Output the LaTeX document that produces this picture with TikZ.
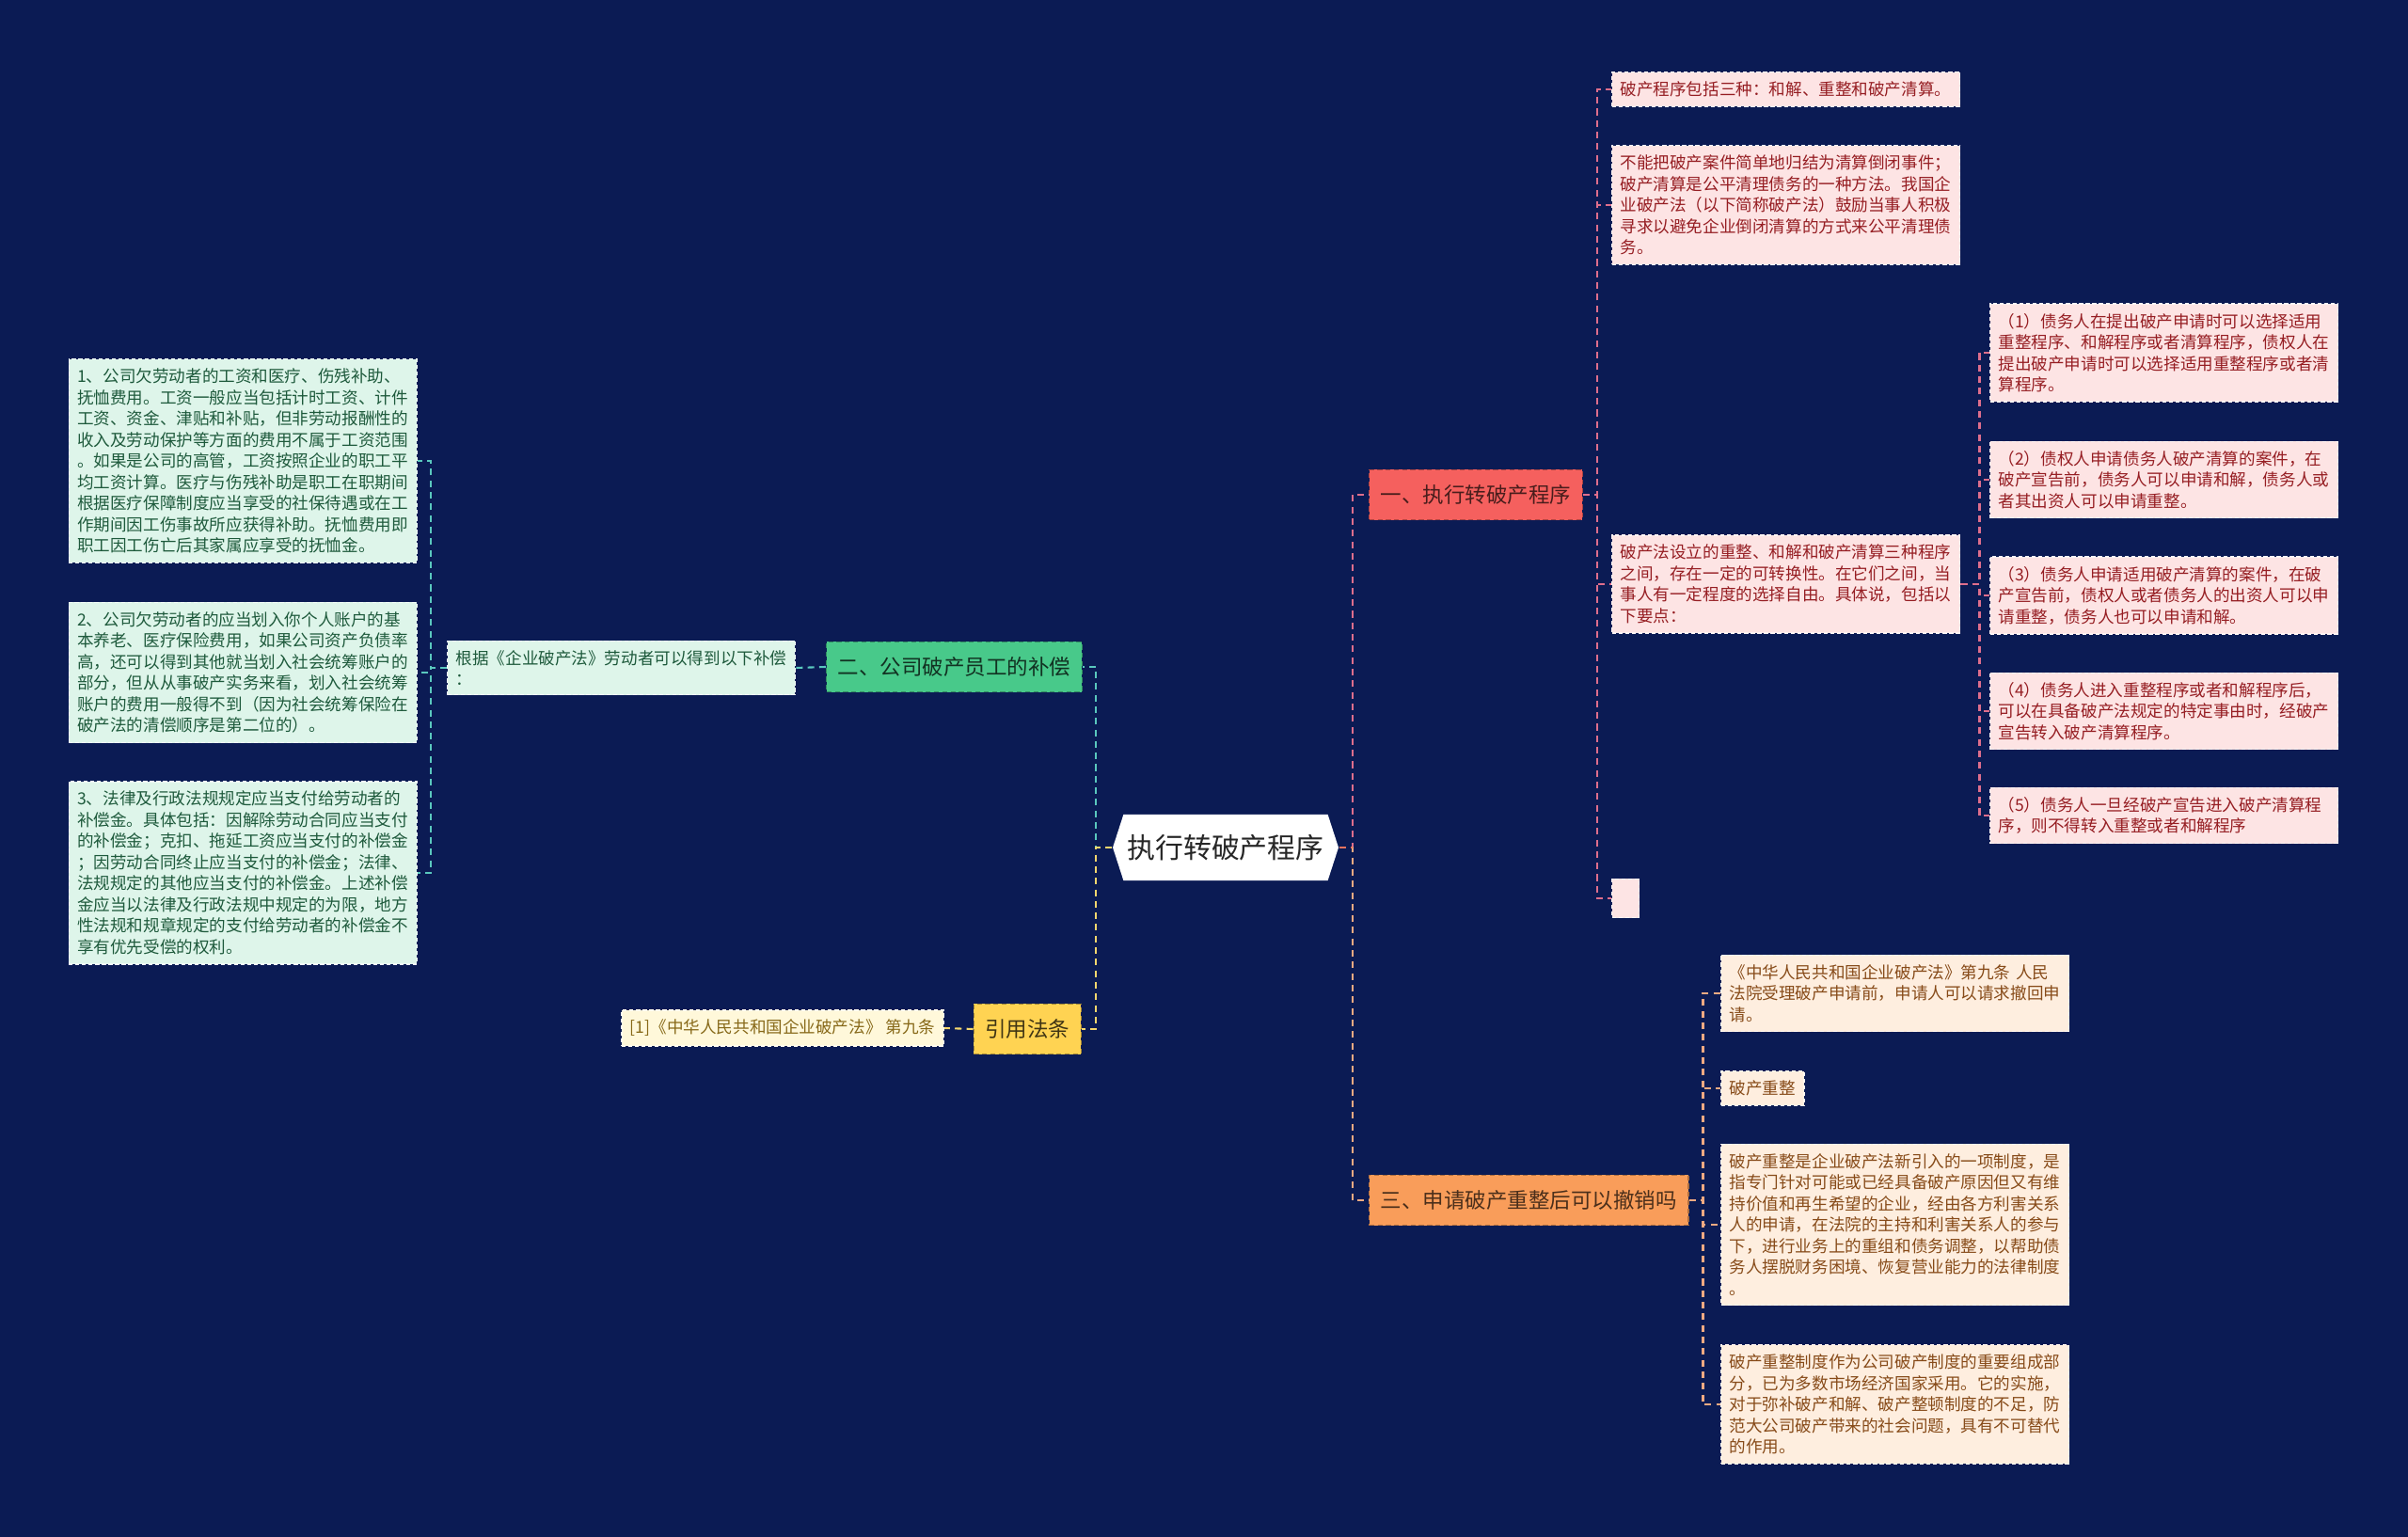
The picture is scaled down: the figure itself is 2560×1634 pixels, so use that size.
\documentclass[tikz,border=0pt]{standalone}
\usepackage{fontspec}
\setmainfont{Noto Sans CJK SC}
\usepackage{xcolor}
\usepackage{tikz}
\usetikzlibrary{shapes.symbols, positioning, calc}
\definecolor{fondo}{RGB}{11,27,84}
\definecolor{rojorama}{RGB}{245,96,94}
\definecolor{verderama}{RGB}{72,201,138}
\definecolor{amarillorama}{RGB}{255,211,82}
\definecolor{naranjarama}{RGB}{249,157,90}
\definecolor{rosahoja}{RGB}{253,228,228}
\definecolor{mentahoja}{RGB}{222,245,234}
\definecolor{cremahoja}{RGB}{255,248,218}
\definecolor{melocotonhoja}{RGB}{254,238,223}
\definecolor{rojotexto}{RGB}{150,30,35}
\definecolor{verdetexto}{RGB}{30,90,60}
\definecolor{ocretexto}{RGB}{135,105,25}
\definecolor{marrontexto}{RGB}{135,75,25}
\definecolor{rosalinea}{RGB}{222,110,140}
\definecolor{verdelinea}{RGB}{90,200,190}
\definecolor{amarillolinea}{RGB}{245,215,110}
\definecolor{naranjalinea}{RGB}{240,170,130}
\definecolor{salmonlinea}{RGB}{232,115,95}
\tikzset{
  hoja/.style={rectangle, line width=0.35pt, dash pattern=on 1.2pt off 0.8pt, font=\fontsize{5pt}{6.4pt}\selectfont, align=left, inner xsep=0.09cm, inner ysep=0.1cm},
  hojaancha/.style={hoja, text width=3.52cm},
  rama/.style={rectangle, line width=0.4pt, dash pattern=on 1.5pt off 1pt, font=\fontsize{6.4pt}{7.7pt}\selectfont, inner xsep=0.12cm, minimum height=0.53cm},
  linea/.style={line width=0.6pt, dash pattern=on 2pt off 1.5pt}
}

\begin{document}
\begin{tikzpicture}[x=0.01cm, y=-0.01cm,
  raiz/.style={signal, signal to=west and east, signal pointer angle=144, fill=white, text=black!85,
               font=\fontsize{8.5pt}{10pt}\selectfont, minimum height=0.7cm, inner xsep=0.04cm},
  ramaroja/.style={rama, fill=rojorama, draw=rojorama!70!black, text=black!70!rojorama},
  ramaverde/.style={rama, fill=verderama, draw=verderama!70!black, text=black!75!verderama},
  ramaamarilla/.style={rama, fill=amarillorama, draw=amarillorama!65!black, text=black!75!amarillorama},
  ramanaranja/.style={rama, fill=naranjarama, draw=naranjarama!70!black, text=black!70!naranjarama},
  hojarosa/.style={hojaancha, fill=rosahoja, draw=white!60!rosahoja, text=rojotexto},
  hojamenta/.style={hojaancha, fill=mentahoja, draw=white!60!mentahoja, text=verdetexto},
  hojamelocoton/.style={hojaancha, fill=melocotonhoja, draw=white!60!melocotonhoja, text=marrontexto}]
  \fill [fondo] (0,0) rectangle (2560,1634);

  % centro y ramas
  \node (raiz) [raiz] at (1303,901) {执行转破产程序};
  \node (r1) [ramaroja, anchor=west] at (1455,526) {一、执行转破产程序};
  \node (r2) [ramaverde, anchor=east] at (1151,709) {二、公司破产员工的补偿};
  \node (r3) [ramanaranja, anchor=west] at (1455,1276) {三、申请破产重整后可以撤销吗};
  \node (r4) [ramaamarilla, anchor=east] at (1150,1094) {引用法条};

  % rama uno
  \node (a1) [hojarosa, anchor=west] at (1713,95) {破产程序包括三种：和解、重整和破产清算。};
  \node (a2) [hojarosa, anchor=west] at (1713,218) {不能把破产案件简单地归结为清算倒闭事件；\\破产清算是公平清理债务的一种方法。我国企\\业破产法（以下简称破产法）鼓励当事人积极\\寻求以避免企业倒闭清算的方式来公平清理债\\务。};
  \node (a3) [hojarosa, anchor=west] at (1713,621) {破产法设立的重整、和解和破产清算三种程序\\之间，存在一定的可转换性。在它们之间，当\\事人有一定程度的选择自由。具体说，包括以\\下要点：};
  \node (a4) [hoja, fill=rosahoja, draw=white!60!rosahoja, minimum width=0.29cm, minimum height=0.41cm, anchor=west] at (1713,955) {};
  \node (b1) [hojarosa, anchor=west] at (2115,375) {（1）债务人在提出破产申请时可以选择适用\\重整程序、和解程序或者清算程序，债权人在\\提出破产申请时可以选择适用重整程序或者清\\算程序。};
  \node (b2) [hojarosa, anchor=west] at (2115,510) {（2）债权人申请债务人破产清算的案件，在\\破产宣告前，债务人可以申请和解，债务人或\\者其出资人可以申请重整。};
  \node (b3) [hojarosa, anchor=west] at (2115,633) {（3）债务人申请适用破产清算的案件，在破\\产宣告前，债权人或者债务人的出资人可以申\\请重整，债务人也可以申请和解。};
  \node (b4) [hojarosa, anchor=west] at (2115,756) {（4）债务人进入重整程序或者和解程序后，\\可以在具备破产法规定的特定事由时，经破产\\宣告转入破产清算程序。};
  \node (b5) [hojarosa, anchor=west] at (2115,867) {（5）债务人一旦经破产宣告进入破产清算程\\序，则不得转入重整或者和解程序};

  % rama dos
  \node (d0) [hoja, fill=mentahoja, draw=white!60!mentahoja, text=verdetexto, anchor=east] at (846,710) {根据《企业破产法》劳动者可以得到以下补偿\\：};
  \node (e1) [hojamenta, anchor=east] at (444,490) {1、公司欠劳动者的工资和医疗、伤残补助、\\抚恤费用。工资一般应当包括计时工资、计件\\工资、资金、津贴和补贴，但非劳动报酬性的\\收入及劳动保护等方面的费用不属于工资范围\\。如果是公司的高管，工资按照企业的职工平\\均工资计算。医疗与伤残补助是职工在职期间\\根据医疗保障制度应当享受的社保待遇或在工\\作期间因工伤事故所应获得补助。抚恤费用即\\职工因工伤亡后其家属应享受的抚恤金。};
  \node (e2) [hojamenta, anchor=east] at (444,715) {2、公司欠劳动者的应当划入你个人账户的基\\本养老、医疗保险费用，如果公司资产负债率\\高，还可以得到其他就当划入社会统筹账户的\\部分，但从从事破产实务来看，划入社会统筹\\账户的费用一般得不到（因为社会统筹保险在\\破产法的清偿顺序是第二位的）。};
  \node (e3) [hojamenta, anchor=east] at (444,928) {3、法律及行政法规规定应当支付给劳动者的\\补偿金。具体包括：因解除劳动合同应当支付\\的补偿金；克扣、拖延工资应当支付的补偿金\\；因劳动合同终止应当支付的补偿金；法律、\\法规规定的其他应当支付的补偿金。上述补偿\\金应当以法律及行政法规中规定的为限，地方\\性法规和规章规定的支付给劳动者的补偿金不\\享有优先受偿的权利。};

  % rama tres
  \node (c1) [hojamelocoton, anchor=west] at (1829,1056) {《中华人民共和国企业破产法》第九条 人民\\法院受理破产申请前，申请人可以请求撤回申\\请。};
  \node (c2) [hoja, fill=melocotonhoja, draw=white!60!melocotonhoja, text=marrontexto, anchor=west] at (1829,1157) {破产重整};
  \node (c3) [hojamelocoton, anchor=west] at (1829,1302) {破产重整是企业破产法新引入的一项制度，是\\指专门针对可能或已经具备破产原因但又有维\\持价值和再生希望的企业，经由各方利害关系\\人的申请，在法院的主持和利害关系人的参与\\下，进行业务上的重组和债务调整，以帮助债\\务人摆脱财务困境、恢复营业能力的法律制度\\。};
  \node (c4) [hojamelocoton, anchor=west] at (1829,1493) {破产重整制度作为公司破产制度的重要组成部\\分，已为多数市场经济国家采用。它的实施，\\对于弥补破产和解、破产整顿制度的不足，防\\范大公司破产带来的社会问题，具有不可替代\\的作用。};

  % rama cuatro
  \node (f1) [hoja, fill=cremahoja, draw=white!60!cremahoja, text=ocretexto, anchor=east] at (1004,1093) {[1]《中华人民共和国企业破产法》 第九条};

  % conectores
  \draw [linea, verdelinea] (raiz.west) -- ++(-17,0) |- (r2.east);
  \draw [linea, amarillolinea] (raiz.west) -- ++(-17,0) |- (r4.east);
  \draw [linea, rosalinea] (raiz.east) -- ++(14,0) |- (r1.west);
  \draw [linea, naranjalinea] (raiz.east) -- ++(14,0) |- (r3.west);
  \draw [linea, salmonlinea] (raiz.east) -- ++(14,0);
  \foreach \n in {a1,a2,a3,a4}
    \draw [linea, rosalinea] (r1.east) -- ++(15,0) |- (\n.west);
  \foreach \n in {b1,b2,b3,b4,b5}
    \draw [linea, rosalinea] (a3.east) -- ++(20,0) |- (\n.west);
  \foreach \n in {c1,c2,c3,c4}
    \draw [linea, naranjalinea] (r3.east) -- ++(15,0) |- (\n.west);
  \draw [linea, verdelinea] (r2.west) -- (d0.east);
  \foreach \n in {e1,e2,e3}
    \draw [linea, verdelinea] (d0.west) -- ++(-17,0) |- (\n.east);
  \draw [linea, amarillolinea] (r4.west) -- (f1.east);
\end{tikzpicture}
\end{document}
